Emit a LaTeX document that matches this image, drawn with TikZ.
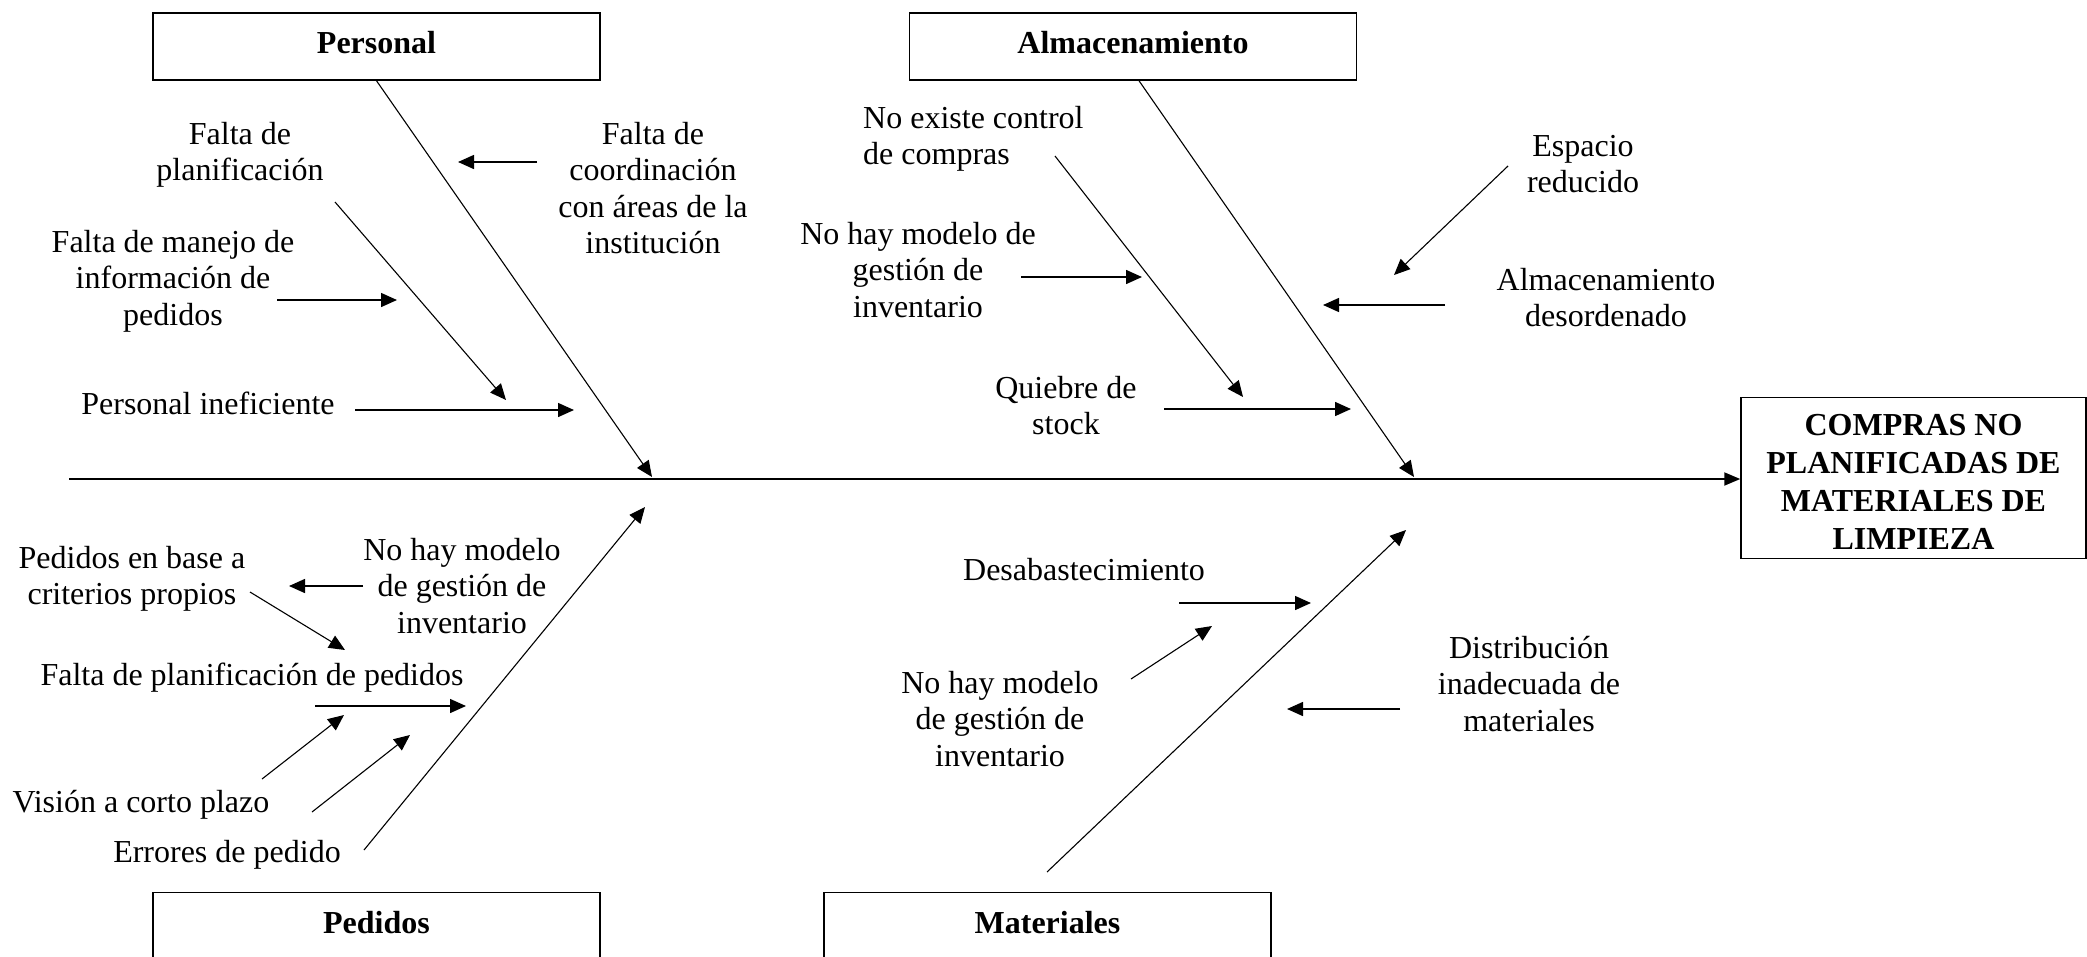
\documentclass[tikz,border=0pt]{standalone}
\usepackage{fontspec}
\setmainfont{Liberation Serif}
\usetikzlibrary{arrows.meta}
\newcommand{\lns}[1]{\vtop{\halign{\hfil##\hfil\cr#1\crcr}}}
\newcommand{\lnsl}[1]{\vtop{\halign{##\hfil\cr#1\crcr}}}
\begin{document}
\begin{tikzpicture}[x=1pt,y=-1pt,
  lbl/.style={inner sep=0pt, anchor=base, font=\fontsize{32}{36.5}\selectfont},
  cat/.style={draw, line width=1.5pt, minimum width=447pt, minimum height=67pt, inner sep=0pt,
    font=\fontsize{32}{36.5}\selectfont\bfseries, text height=22pt, text depth=8pt},
  harr/.style={-{Triangle[length=16pt,width=14pt]}, line width=1.5pt},
  darr/.style={-{Triangle[length=16pt,width=14pt]}, line width=1.1pt},
  bone/.style={-{Triangle[length=16pt,width=14pt]}, line width=1.1pt},
]
\useasboundingbox (0,0) rectangle (2087,956);

% category boxes
\node[cat] (personal) at (376.5,46.5) {Personal};
\node[cat] (alm) at (1133,46.5) {Almacenamiento};
\node[cat] (pedidos) at (376.5,926) {Pedidos};
\node[cat] (mat) at (1047.5,926) {Materiales};

% effect box
\node[draw, line width=1.5pt, minimum width=345pt, minimum height=161pt, inner sep=0pt,
  text height=22pt, text depth=108pt,
  font=\fontsize{32}{38}\selectfont\bfseries] (eff) at (1913.5,478)
  {\lns{COMPRAS NO\cr PLANIFICADAS DE\cr MATERIALES DE\cr LIMPIEZA}};

% spine
\coordinate (s0) at (69,479);
\draw[line width=2pt, -{Triangle[length=16pt,width=13pt]}] (s0) -- (s0 -| eff.west);

% main bones
\coordinate (bP) at (652,477);
\coordinate (bA) at (1414,477);
\coordinate (bPe0) at (364,850);
\coordinate (bPe) at (645,507);
\coordinate (bM0) at (1047,872);
\coordinate (bM) at (1406,530);
\draw[bone] (personal.south) -- (bP);
\draw[bone] ([xshift=6pt]alm.south) -- (bA);
\draw[bone] (bPe0) -- (bPe);
\draw[bone] (bM0) -- (bM);

% ---------- Personal ----------
\node[lbl] (tplan) at (240,144) {\lns{Falta de\cr planificación}};
\node[lbl] (tcoord) at (653,144) {\lns{Falta de\cr coordinación\cr con áreas de la\cr institución}};
\node[lbl] (tmanejo) at (173,252) {\lns{Falta de manejo de\cr información de\cr pedidos}};
\node[lbl] (tinef) at (208,414) {Personal ineficiente};

\coordinate (c1a) at (537,162); \coordinate (c1b) at (458,162);
\coordinate (c2a) at (335,202); \coordinate (c2b) at (506,400);
\coordinate (c3a) at (277,300); \coordinate (c3b) at (397,300);
\coordinate (c4a) at (355,410); \coordinate (c4b) at (574,410);
\draw[harr] (c1a) -- (c1b);
\draw[darr] (c2a) -- (c2b);
\draw[harr] (c3a) -- (c3b);
\draw[harr] (c4a) -- (c4b);

% ---------- Almacenamiento ----------
\node[lbl, anchor=base west] (tcontrol) at (863,128) {\lnsl{No existe control\cr de compras}};
\node[lbl] (tnohay1) at (918,244) {\lns{No hay modelo de\cr gestión de\cr inventario}};
\node[lbl] (tquiebre) at (1066,398) {\lns{Quiebre de\cr stock}};
\node[lbl] (tespacio) at (1583,156) {\lns{Espacio\cr reducido}};
\node[lbl] (tdesord) at (1606,290) {\lns{Almacenamiento\cr desordenado}};

\coordinate (a1a) at (1055,156); \coordinate (a1b) at (1243,397);
\coordinate (a2a) at (1021,277); \coordinate (a2b) at (1142,277);
\coordinate (a3a) at (1164,409); \coordinate (a3b) at (1351,409);
\coordinate (a4a) at (1508,166); \coordinate (a4b) at (1394,275);
\coordinate (a5a) at (1445,305); \coordinate (a5b) at (1323,305);
\draw[darr] (a1a) -- (a1b);
\draw[harr] (a2a) -- (a2b);
\draw[harr] (a3a) -- (a3b);
\draw[darr] (a4a) -- (a4b);
\draw[harr] (a5a) -- (a5b);

% ---------- Pedidos ----------
\node[lbl] (tcrit) at (132,568) {\lns{Pedidos en base a\cr criterios propios}};
\node[lbl] (tnohay2) at (462,560) {\lns{No hay modelo\cr de gestión de\cr inventario}};
\node[lbl] (tfaltaplan) at (252,685) {Falta de planificación de pedidos};
\node[lbl] (tvision) at (141,812) {Visión a corto plazo};
\node[lbl] (terrores) at (227,862) {Errores de pedido};

\coordinate (p1a) at (363,586); \coordinate (p1b) at (289,586);
\coordinate (p2a) at (250,592); \coordinate (p2b) at (345,650);
\coordinate (p3a) at (315,706); \coordinate (p3b) at (466,706);
\coordinate (p4a) at (262,779); \coordinate (p4b) at (344,715);
\coordinate (p5a) at (312,812); \coordinate (p5b) at (410,735);
\draw[harr] (p1a) -- (p1b);
\draw[darr] (p2a) -- (p2b);
\draw[harr] (p3a) -- (p3b);
\draw[darr] (p4a) -- (p4b);
\draw[darr] (p5a) -- (p5b);

% ---------- Materiales ----------
\node[lbl] (tdesab) at (1084,580) {Desabastecimiento};
\node[lbl] (tnohay3) at (1000,693) {\lns{No hay modelo\cr de gestión de\cr inventario}};
\node[lbl] (tdistrib) at (1529,658) {\lns{Distribución\cr inadecuada de\cr materiales}};

\coordinate (m1a) at (1179,603); \coordinate (m1b) at (1311,603);
\coordinate (m2a) at (1131,679); \coordinate (m2b) at (1212,626);
\coordinate (m3a) at (1400,709); \coordinate (m3b) at (1287,709);
\draw[harr] (m1a) -- (m1b);
\draw[darr] (m2a) -- (m2b);
\draw[harr] (m3a) -- (m3b);
\end{tikzpicture}
\end{document}
